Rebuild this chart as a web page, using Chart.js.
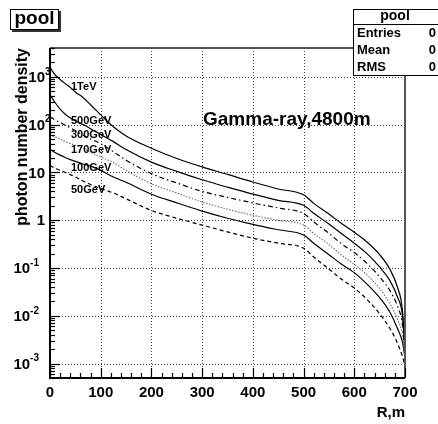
<!DOCTYPE html>
<html><head><meta charset="utf-8">
<script src="https://cdn.jsdelivr.net/npm/chart.js@4/dist/chart.umd.min.js"></script>
<style>html,body{margin:0;padding:0;background:#fff;}#wrap{width:438px;height:424px;position:relative;}</style>
</head><body><div id="wrap"><canvas id="c" width="438" height="424"></canvas></div>
<script>
// ---- data ----
const radius = [0, 5, 10, 20, 30, 40, 50, 65, 80, 100, 125, 150, 200, 250, 300, 350, 400, 450, 500, 520, 550, 575, 600, 625, 650, 670, 685, 695, 700];
const e1TeV   = [1600,1300,1100,880,720,600,480,370,260,160,90,58,32,19.5,13,9.1,6.3,4.5,3.4,2.25,1.35,0.85,0.56,0.35,0.19,0.095,0.04,0.013,0.002];
const e500GeV = [420,350,290,210,165,138,120,100,82,62,44,30,16.4,10.5,7.0,4.9,3.5,2.6,2.05,1.4,0.83,0.52,0.33,0.2,0.105,0.055,0.025,0.01,0.0018];
const e300GeV = [145,135,125,110,97,86,75,60,50,40,27,18,9.4,6.0,4.0,3.0,2.3,1.8,1.38,0.92,0.53,0.32,0.21,0.125,0.065,0.034,0.016,0.0065,0.0016];
const e170GeV = [62,58,55,50,44,40,37,32,26,21,16,11,5.8,3.7,2.4,1.7,1.27,1.0,0.79,0.53,0.31,0.185,0.12,0.072,0.037,0.018,0.0085,0.004,0.0015];
const e100GeV = [30,28,26,23,20.5,18.5,17,15,13.5,11,8,6.2,3.5,2.3,1.55,1.1,0.82,0.63,0.49,0.33,0.19,0.12,0.08,0.046,0.024,0.012,0.0055,0.0028,0.0013];
const e50GeV  = [14,13,12.3,11,10,9,8,6.6,5.6,4.6,3.7,2.8,1.6,1.1,0.79,0.57,0.42,0.33,0.26,0.17,0.095,0.058,0.038,0.022,0.011,0.0055,0.0027,0.0014,0.0009];
const seriesNames = ['1TeV','500GeV','300GeV','170GeV','100GeV','50GeV'];
const xTickValues = [0,100,200,300,400,500,600,700];
const xTickLabels = ['0','100','200','300','400','500','600','700'];
const yTickValues = [1e-3,1e-2,1e-1,1,10,100,1000];
const yTickLabels = ['10^-3','10^-2','10^-1','1','10','10^2','10^3'];
const xTitle = 'R,m';
const yTitle = 'photon number density';
const noteText = 'Gamma-ray,4800m';
const histTitle = 'pool';
const statNames = ['Entries','Mean','RMS'];
const statValues = ['0','0','0'];

// ---- styles ----
const allSeries = [e1TeV,e500GeV,e300GeV,e170GeV,e100GeV,e50GeV];
const styles = [
  {c:'#000', d:[]},
  {c:'#000', d:[]},
  {c:'#000', d:[5,3,1.5,3]},
  {c:'#777', d:[1.5,1.5]},
  {c:'#000', d:[]},
  {c:'#000', d:[4,3]}
];
const labelY = [87,121,135,150,168,190];
const F = '"Liberation Sans", Arial, sans-serif';

const datasets = allSeries.map((vals,i)=>({
  label: seriesNames[i],
  data: radius.map((r,k)=>({x:r,y:vals[k]})),
  borderColor: styles[i].c,
  borderDash: styles[i].d,
  borderWidth: 1.2,
  pointRadius: 0,
  fill: false,
  tension: 0,
  cubicInterpolationMode: 'monotone'
}));

const rootPlugin = {
  id:'rootStyle',
  beforeDatasetsDraw(chart){
    const {ctx, chartArea:a, scales:{x,y}} = chart;
    ctx.save();
    ctx.strokeStyle = '#444';
    ctx.lineWidth = 1;
    ctx.setLineDash([1,2]);
    xTickValues.forEach(v=>{
      if (v<=0 || v>=700) return;
      const px = Math.round(x.getPixelForValue(v))+0.5;
      ctx.beginPath(); ctx.moveTo(px,a.top); ctx.lineTo(px,a.bottom); ctx.stroke();
    });
    yTickValues.forEach(v=>{
      const py = Math.round(y.getPixelForValue(v))+0.5;
      ctx.beginPath(); ctx.moveTo(a.left,py); ctx.lineTo(a.right,py); ctx.stroke();
    });
    ctx.restore();
  },
  afterDatasetsDraw(chart){
    const {ctx, chartArea:a, scales:{x,y}} = chart;
    ctx.save();
    ctx.setLineDash([]);
    // frame top/right
    ctx.strokeStyle = '#555'; ctx.lineWidth = 2;
    ctx.beginPath(); ctx.moveTo(a.left,a.top); ctx.lineTo(a.right,a.top); ctx.lineTo(a.right,a.bottom); ctx.stroke();
    // axes
    ctx.strokeStyle = '#000'; ctx.lineWidth = 2;
    ctx.beginPath(); ctx.moveTo(a.left,a.top); ctx.lineTo(a.left,a.bottom); ctx.lineTo(a.right,a.bottom); ctx.stroke();
    // x ticks
    ctx.lineWidth = 1.2;
    for (let v=0; v<=700; v+=20){
      const px = Math.round(x.getPixelForValue(v))+0.5;
      const len = (v%100===0)?10:5;
      ctx.beginPath(); ctx.moveTo(px,a.bottom); ctx.lineTo(px,a.bottom-len); ctx.stroke();
    }
    // y ticks
    for (let e=-4; e<=3; e++){
      for (let m=1; m<=9; m++){
        const v = m*Math.pow(10,e);
        if (v < y.min || v > y.max) continue;
        const py = Math.round(y.getPixelForValue(v))+0.5;
        const len = (m===1)?10:5;
        ctx.beginPath(); ctx.moveTo(a.left,py); ctx.lineTo(a.left+len,py); ctx.stroke();
      }
    }
    ctx.fillStyle = '#000';
    // x labels
    ctx.font = 'bold 15px '+F; ctx.textAlign='center'; ctx.textBaseline='middle';
    xTickValues.forEach((v,i)=>{ ctx.fillText(xTickLabels[i], x.getPixelForValue(v), a.bottom+15); });
    // y labels
    yTickValues.forEach((v,i)=>{
      const py = y.getPixelForValue(v);
      const parts = yTickLabels[i].split('^');
      ctx.textBaseline='middle';
      if (parts.length===1){
        ctx.font='bold 15px '+F; ctx.textAlign='right';
        ctx.fillText(parts[0], a.left-5, py+1);
      } else {
        const exp = parts[1];
        ctx.font='bold 10px '+F;
        const ew = ctx.measureText(exp).width;
        let baseRight = exp.startsWith('-') ? a.left-11-ew : a.left-5;
        ctx.font='bold 15px '+F; ctx.textAlign='right';
        ctx.fillText(parts[0], baseRight, py+1);
        ctx.font='bold 10px '+F; ctx.textAlign='left';
        ctx.fillText(exp, baseRight, py-5);
      }
    });
    // axis titles
    ctx.font='bold 15px '+F; ctx.textAlign='right'; ctx.textBaseline='middle';
    ctx.fillText(xTitle, a.right, 413);
    ctx.save();
    ctx.translate(27, a.top); ctx.rotate(-Math.PI/2);
    ctx.font='bold 16px '+F; ctx.textAlign='right'; ctx.textBaseline='alphabetic';
    ctx.fillText(yTitle, 0, 0);
    ctx.restore();
    // series labels
    ctx.font='bold 11px '+F; ctx.textAlign='left'; ctx.textBaseline='middle';
    seriesNames.forEach((n,i)=>ctx.fillText(n, 71, labelY[i]));
    // note
    ctx.font='bold 19px '+F; ctx.textAlign='left'; ctx.textBaseline='alphabetic';
    ctx.fillText(noteText, 203, 125);
    // title box with shadow
    ctx.fillStyle='#333'; ctx.fillRect(12,11,49,21);
    ctx.fillStyle='#fff'; ctx.fillRect(10,9,49,21);
    ctx.strokeStyle='#000'; ctx.lineWidth=1; ctx.strokeRect(10.5,9.5,48,20);
    ctx.fillStyle='#000'; ctx.font='bold 19px '+F; ctx.textAlign='center'; ctx.textBaseline='middle';
    ctx.fillText(histTitle, 34.5, 19);
    // stats box
    ctx.fillStyle='#fff'; ctx.fillRect(353,9,85,67);
    ctx.strokeStyle='#000'; ctx.lineWidth=1; ctx.strokeRect(353.5,9.5,90,66);
    ctx.beginPath(); ctx.moveTo(353.5,24.5); ctx.lineTo(438,24.5); ctx.stroke();
    ctx.fillStyle='#000';
    ctx.font='bold 14px '+F; ctx.textAlign='center'; ctx.textBaseline='middle';
    ctx.fillText(histTitle, 395, 16);
    ctx.font='bold 13px '+F;
    const rowsY=[33,50,67];
    statNames.forEach((n,i)=>{
      ctx.textAlign='left'; ctx.fillText(n, 357, rowsY[i]);
      ctx.textAlign='right'; ctx.fillText(statValues[i], 436, rowsY[i]);
    });
    ctx.restore();
  }
};

new Chart(document.getElementById('c'), {
  type:'line',
  data:{datasets},
  options:{
    responsive:false, animation:false, devicePixelRatio:1,
    layout:{padding:{left:50,right:33,top:48,bottom:46}},
    scales:{
      x:{type:'linear',min:0,max:700,display:false},
      y:{type:'logarithmic',min:5e-4,max:4e3,display:false}
    },
    plugins:{legend:{display:false},tooltip:{enabled:false}}
  },
  plugins:[rootPlugin]
});
</script></body></html>
